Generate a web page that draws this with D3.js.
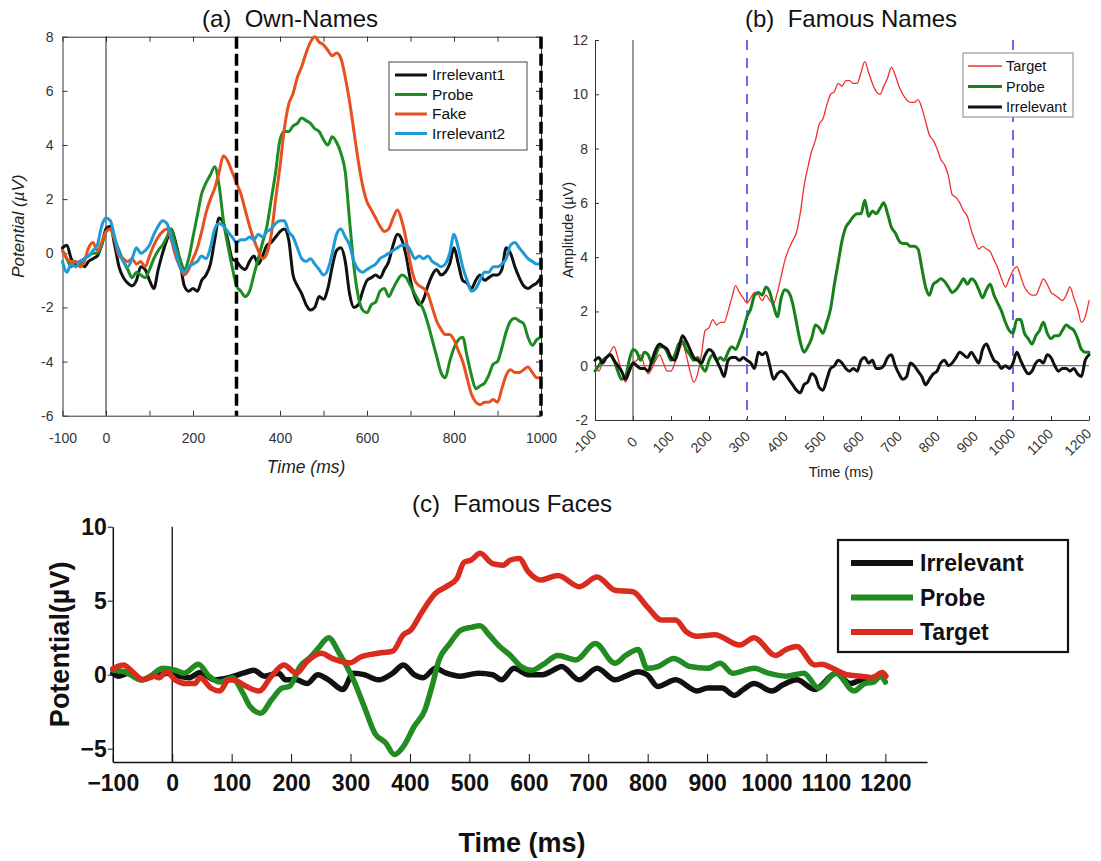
<!DOCTYPE html>
<html>
<head>
<meta charset="utf-8">
<script src="https://cdn.jsdelivr.net/npm/d3@7/dist/d3.min.js"></script>
<style>
  body { margin: 0; background: #fff; }
  svg { display: block; font-family: "Liberation Sans", Arial, sans-serif; }
  .title { white-space: pre; }
</style>
</head>
<body>
<svg id="fig" width="1101" height="861"></svg>
<script>
// ---------- panel (a) Own-Names : 10 ms samples from -100 to 1000 ----------
let aTime = d3.range(-100, 1001, 10)
let aIrrelevant1 = [0.2,0.3,-0.2,-0.4,-0.3,-0.5,-0.3,-0.2,-0.1,0.3,
  0.9,1.0,0.3,-0.5,-0.9,-1.1,-1.2,-1.0,-0.5,-0.6,
  -1.0,-1.3,-0.6,0,0.5,0.9,0.4,-0.3,-1.2,-1.4,
  -1.3,-1.4,-1.0,-0.8,-0.4,0.5,1.3,1.1,0.5,-0.2,
  -0.3,-0.5,-0.6,-0.3,-0.1,-0.4,-0.1,0.3,0.4,0.6,
  0.8,0.9,0.5,-0.8,-1.2,-1.5,-1.9,-2.1,-2.0,-1.6,
  -1.7,-1.3,-0.5,0.1,0.2,-0.3,-1.5,-2.0,-1.9,-1.4,
  -1.0,-0.9,-0.8,-0.9,-0.6,-0.3,0.3,0.7,0.5,-0.1,
  -1.0,-1.6,-1.9,-1.7,-1.2,-0.8,-0.6,-0.8,-0.7,-0.4,
  0.2,-0.4,-1.0,-1.1,-1.3,-1.0,-0.8,-1.0,-0.9,-0.8,
  -0.8,-0.6,0.2,0.0,-0.5,-0.9,-1.2,-1.3,-1.2,-1.1,
  -0.9]
let aProbe = [0.1,-0.2,-0.5,-0.3,-0.4,-0.2,-0.1,0,0,0.3,
  0.8,0.9,0.5,0.1,-0.3,-0.6,-0.9,-0.7,-0.8,-0.9,
  -0.6,-0.2,0.1,0.3,0.6,0.9,0.3,-0.2,-0.6,-0.2,
  0.6,1.4,2.2,2.6,2.9,3.2,2.5,1.2,0.3,-0.5,
  -1.2,-1.4,-1.6,-1.4,-0.8,-0.2,0.4,1.0,2.0,3.0,
  4.2,4.5,4.5,4.7,4.8,5.0,4.9,4.8,4.6,4.5,
  4.2,4.0,4.3,4.1,3.7,3.0,1.2,-0.5,-1.6,-2.1,
  -2.2,-1.9,-1.8,-1.4,-1.3,-1.6,-1.3,-1.0,-0.8,-0.9,
  -1.2,-1.5,-1.8,-2.1,-2.6,-3.2,-3.8,-4.4,-4.6,-4.0,
  -3.5,-3.2,-3.1,-3.8,-4.5,-5.0,-4.9,-4.8,-4.5,-4.1,
  -4.0,-3.5,-2.9,-2.5,-2.4,-2.5,-2.6,-3.1,-3.4,-3.2,
  -3.1]
let aFake = [0.1,-0.2,-0.3,-0.3,-0.5,-0.3,0.2,0.4,0.1,0.4,
  0.8,0.9,0.5,-0.1,-0.2,-0.3,-0.2,-0.4,-0.3,-0.5,
  -0.1,0.3,0.6,0.8,0.9,0.5,-0.1,-0.5,-0.8,-0.6,
  -0.2,0.2,0.8,1.5,2.0,2.4,3.0,3.6,3.4,3.0,
  2.6,2.2,1.6,1.0,0.5,0.1,-0.2,0.0,0.7,2.0,
  3.2,4.6,5.5,5.9,6.5,6.9,7.4,7.8,8.0,7.8,
  7.7,7.5,7.3,7.4,7.2,6.5,5.6,4.5,3.4,2.5,
  1.9,1.6,1.3,1.0,0.8,0.9,1.3,1.6,1.2,0.5,
  -0.4,-1.0,-1.2,-1.3,-1.5,-2.0,-2.5,-2.8,-3.0,-3.0,
  -3.2,-3.6,-4.0,-4.6,-5.2,-5.5,-5.6,-5.5,-5.5,-5.4,
  -5.5,-5.0,-4.5,-4.3,-4.4,-4.4,-4.3,-4.2,-4.4,-4.6,
  -4.6]
let aIrrelevant2 = [-0.3,-0.7,-0.4,-0.5,-0.3,-0.2,-0.1,0.1,0.3,1.0,
  1.3,1.2,0.6,0.0,-0.3,-0.5,-0.2,0.2,0.0,0.1,
  0.3,0.7,1.0,1.2,1.1,0.6,0.1,-0.5,-0.7,-0.5,
  -0.4,-0.3,-0.1,-0.2,0.2,0.9,1.1,1.0,0.8,0.6,
  0.4,0.5,0.5,0.6,0.5,0.7,0.6,0.8,0.9,1.1,
  1.2,1.2,0.8,0.6,0.2,-0.2,-0.3,-0.2,-0.4,-0.6,
  -0.8,-0.6,0.0,0.7,0.9,0.6,0.3,-0.3,-0.6,-0.7,
  -0.6,-0.5,-0.4,-0.2,-0.1,0.0,0.1,0.2,0.3,0.3,
  0.1,-0.2,-0.1,-0.2,-0.1,-0.3,-0.4,-0.5,-0.4,0.0,
  0.7,0.2,-0.5,-1.0,-1.4,-1.3,-1.0,-0.7,-0.7,-0.5,
  -0.5,-0.4,-0.2,0.3,0.4,0.2,0.0,-0.2,-0.3,-0.4,
  -0.4]
let aXTicks = d3.range(-100, 1001, 100)
let aXLabels = [-100, 0, 200, 400, 600, 800, 1000]
let aYTicks = [-6, -4, -2, 0, 2, 4, 6, 8]
let aMarkers = [300, 1000]

// ---------- panel (b) Famous Names : 10 ms samples from -100 to 1200 ----------
let bTime = d3.range(-100, 1201, 10)
let bTarget = [0.0,-0.2,0.1,0.3,0.5,0.7,0.3,-0.2,-0.6,-0.3,
  0.1,0.2,0.4,0.0,-0.3,-0.1,0.2,0.4,0.1,-0.2,
  -0.2,0.1,0.5,0.8,0.4,-0.2,-0.6,-0.3,0.4,1.3,
  1.4,1.7,1.5,1.6,1.6,2.0,2.5,2.95,2.7,2.5,
  2.3,2.5,2.7,2.6,2.4,2.6,2.4,2.3,2.7,3.3,
  3.9,4.3,4.6,4.9,5.6,6.6,7.3,7.9,8.3,8.9,
  9.1,9.6,10.0,10.1,10.4,10.3,10.5,10.5,10.4,10.4,
  10.8,11.2,10.8,10.4,10.1,10.0,10.3,10.6,11.0,10.7,
  10.3,10.0,9.8,9.7,9.7,9.8,9.5,9.0,8.5,8.3,
  8.0,7.6,7.4,7.0,6.3,6.2,6.0,5.7,5.5,5.0,
  4.6,4.3,4.4,4.3,4.2,3.9,3.6,3.2,2.9,3.2,
  3.5,3.65,3.3,2.9,2.7,2.6,2.6,2.9,3.2,3.0,
  2.7,2.6,2.5,2.4,2.6,2.9,2.5,2.1,1.6,1.8,
  2.4]
let bProbe = [-0.2,0.0,0.2,0.3,0.4,0.2,-0.2,-0.5,-0.4,0.2,
  0.6,0.5,0.2,0.5,0.4,0.1,0.4,0.7,0.7,0.5,
  0.2,0.4,0.8,0.9,0.6,0.4,0.2,0.3,0.0,-0.2,
  0.2,0.4,0.2,0.3,0.2,0.5,0.7,0.6,0.9,1.3,
  1.8,2.1,2.6,2.7,2.6,2.9,2.7,2.2,1.8,2.5,
  2.8,2.7,2.3,1.6,0.9,0.5,0.7,1.0,1.5,1.4,
  1.2,1.6,2.1,3.0,3.8,4.6,5.1,5.3,5.5,5.6,
  5.6,6.1,5.5,5.7,5.6,5.8,6.0,5.6,5.1,4.9,
  4.6,4.5,4.5,4.4,4.4,4.3,3.6,2.9,2.6,3.0,
  3.1,3.2,3.1,2.9,2.7,2.8,3.0,3.2,3.0,3.2,
  3.1,2.8,2.5,2.8,3.0,2.6,2.3,2.0,1.6,1.3,
  1.2,1.7,1.7,1.2,1.0,0.8,1.1,1.3,1.6,1.2,
  1.0,1.1,1.1,1.3,1.5,1.4,1.3,1.0,0.6,0.5,
  0.5]
let bIrrelevant = [0.2,0.3,0.1,0.3,0.4,0.2,0.0,-0.2,-0.5,-0.2,
  0.1,0.0,-0.1,-0.1,-0.2,0.2,0.6,0.8,0.7,0.6,
  0.3,0.2,0.6,1.1,0.9,0.6,0.3,0.2,0.1,0.4,
  0.6,0.5,0.2,-0.1,-0.4,0.2,0.3,0.3,0.2,0.3,
  0.2,0.1,-0.1,0.5,0.4,0.5,0.0,-0.5,-0.3,-0.2,
  -0.3,-0.5,-0.7,-0.9,-1.0,-0.7,-0.6,-0.3,-0.4,-0.8,
  -0.9,-0.5,-0.1,0.0,0.2,0.1,-0.1,-0.2,-0.1,-0.2,
  0.2,0.3,0.1,0.2,-0.1,-0.1,0.0,0.3,0.4,0.0,
  -0.3,-0.5,-0.4,0.1,0.0,-0.2,-0.4,-0.7,-0.5,-0.3,
  -0.2,0.1,0.2,0.0,0.1,0.3,0.5,0.4,0.3,0.5,
  0.3,0.1,0.6,0.8,0.5,0.2,0.1,-0.1,0.0,-0.1,
  0.1,0.5,0.2,-0.1,-0.3,-0.2,0.1,0.2,0.1,0.4,
  0.3,0.0,-0.2,-0.1,-0.1,-0.2,-0.1,-0.3,-0.4,0.2,
  0.4]
let bXTicks = d3.range(-100, 1201, 100)
let bYTicks = d3.range(-2, 13, 2)
let bMarkers = [300, 1000]

// ---------- panel (c) Famous Faces : [ms, µV] readings ----------
let cIrrelevant = [[-100,0.1],[-91,-0.1],[-73,0.1],[-52,-0.35],[-31,-0.1],[-7,0.1],[11,-0.1],[29,-0.2],
  [47,0.15],[71,-0.35],[95,-0.2],[119,0.1],[137,0.3],[155,-0.1],[179,0.1],[191,-0.35],[209,-0.35],
  [227,-0.6],[245,0.0],[263,-0.35],[287,-1.0],[305,0.1],[323,0.0],[347,-0.35],[371,0.1],[389,0.66],
  [407,0.0],[422,-0.2],[443,0.43],[461,0.1],[485,-0.1],[515,0.1],[539,0.0],[554,-0.35],[575,0.43],
  [599,0.0],[623,0.0],[641,0.3],[655,0.55],[685,-0.35],[715,0.43],[745,-0.35],[763,-0.1],[784,0.2],
  [799,0.0],[817,-0.8],[847,-0.35],[883,-1.1],[901,-0.9],[925,-0.9],[946,-1.4],[961,-1.0],[979,-0.6],
  [1009,-1.1],[1027,-0.7],[1051,-0.35],[1081,-1.0],[1117,0.1],[1141,-0.6],[1159,-0.35],[1177,-0.2],[1195,-0.1]]
let cProbe = [[-100,0.3],[-80,0.2],[-52,-0.35],[-37,-0.1],[-16,0.43],[5,0.3],[20,0.1],[44,0.7],[62,-0.1],
  [80,-0.5],[101,-0.2],[119,-1.25],[131,-2.15],[149,-2.6],[167,-1.7],[185,-0.9],[197,-0.8],[215,0.55],
  [233,1.2],[248,1.9],[263,2.5],[281,1.45],[305,-0.35],[323,-2.15],[341,-3.96],[359,-4.6],[374,-5.4],
  [389,-4.85],[407,-3.5],[425,-2.4],[437,-0.8],[449,1.0],[467,2.1],[485,3.0],[503,3.2],[518,3.3],
  [533,2.7],[551,1.9],[569,1.3],[587,0.55],[605,0.3],[623,0.66],[649,1.3],[679,1.0],[712,2.1],
  [745,0.77],[763,1.3],[784,1.7],[799,0.43],[817,0.55],[844,1.1],[871,0.55],[901,0.43],[922,0.77],
  [943,0.1],[979,0.43],[1003,0.1],[1033,-0.1],[1063,0.1],[1087,-0.9],[1117,0.1],[1147,-1.1],
  [1165,-0.6],[1180,-0.5],[1192,-0.1],[1200,-0.5]]
let cTarget = [[-100,0.4],[-82,0.66],[-67,0.2],[-49,-0.35],[-31,-0.1],[-22,-0.2],[-10,0.2],[5,-0.35],
  [23,-0.6],[38,-0.6],[47,-0.2],[65,-0.9],[80,-1.1],[95,-0.35],[110,-0.45],[125,-0.8],[146,-1.1],
  [167,-0.1],[188,0.66],[209,0.1],[227,0.9],[251,1.45],[269,1.1],[299,0.8],[317,1.2],[347,1.45],
  [371,1.6],[389,2.7],[401,3.0],[419,4.15],[443,5.5],[461,5.95],[479,6.5],[491,7.6],[503,7.75],
  [518,8.2],[539,7.5],[557,7.4],[569,7.75],[584,7.85],[599,6.96],[620,6.4],[638,6.6],[649,6.7],
  [685,5.95],[715,6.6],[745,5.7],[775,5.6],[799,4.6],[823,3.7],[847,3.7],[865,2.9],[883,2.6],
  [913,2.7],[955,2.0],[979,2.5],[1015,1.3],[1033,1.7],[1051,1.9],[1081,0.66],[1093,0.7],[1111,0.43],
  [1135,0.0],[1159,-0.1],[1177,-0.2],[1195,0.14],[1201,-0.1]]
let cXTicks = d3.range(-100, 1201, 100)
let cYTicks = [-5, 0, 5, 10]

let svg = d3.select("#fig")

function pairs(times, vals) {
    return times.map((t, i) => [t, vals[i]])
}

function drawLine(g, x, y, data, color, width) {
    g.append("path")
        .datum(data)
        .attr("fill", "none")
        .attr("stroke", color)
        .attr("stroke-width", width)
        .attr("stroke-linejoin", "round")
        .attr("stroke-linecap", "round")
        .attr("d", d3.line().x(d => x(d[0])).y(d => y(d[1])).curve(d3.curveMonotoneX))
}

function styleAxis(g, size, color, weight) {
    g.attr("font-family", null).attr("font-size", null)
    g.select(".domain").attr("stroke", color)
    g.selectAll(".tick line").attr("stroke", color)
    g.selectAll(".tick text").attr("fill", color).style("font-size", size + "px").style("font-weight", weight || "normal")
}

function legend(g, x0, y0, w, h, items, opt) {
    g.append("rect").attr("x", x0).attr("y", y0).attr("width", w).attr("height", h)
        .attr("fill", "#fff").attr("stroke", opt.border).attr("stroke-width", opt.borderWidth)
    items.forEach((it, i) => {
        let yy = y0 + opt.first + i * opt.step
        g.append("line").attr("x1", x0 + opt.lx0).attr("x2", x0 + opt.lx1).attr("y1", yy).attr("y2", yy)
            .attr("stroke", it.color).attr("stroke-width", it.width)
        g.append("text").attr("x", x0 + opt.tx).attr("y", yy).attr("dy", "0.35em")
            .style("font-size", opt.size + "px").style("font-weight", opt.weight || "normal")
            .attr("fill", "#111").text(it.name)
    })
}

// ================= (a) =================
let xA = d3.scaleLinear().domain([-100, 1000]).range([62.5, 541])
let yA = d3.scaleLinear().domain([-6, 8]).range([415.7, 36.7])
let pa = svg.append("g")

let aBottom = pa.append("g").attr("transform", `translate(0,${yA(-6)})`)
    .call(d3.axisBottom(xA).tickValues(aXTicks).tickSize(-5).tickSizeOuter(0).tickPadding(17)
        .tickFormat(d => aXLabels.includes(d) ? String(d) : ""))
styleAxis(aBottom, 14, "#333")
let aTop = pa.append("g").attr("transform", `translate(0,${yA(8)})`)
    .call(d3.axisTop(xA).tickValues(aXTicks).tickSize(-5).tickSizeOuter(0).tickFormat(""))
styleAxis(aTop, 14, "#333")
let aLeft = pa.append("g").attr("transform", `translate(${xA(-100)},0)`)
    .call(d3.axisLeft(yA).tickValues(aYTicks).tickSize(-5).tickSizeOuter(0).tickPadding(9).tickFormat(d => String(d)))
styleAxis(aLeft, 14, "#333")
let aRight = pa.append("g").attr("transform", `translate(${xA(1000)},0)`)
    .call(d3.axisRight(yA).tickValues(aYTicks).tickSize(-5).tickSizeOuter(0).tickFormat(""))
styleAxis(aRight, 14, "#333")

pa.append("line").attr("x1", xA(0)).attr("x2", xA(0)).attr("y1", yA(8)).attr("y2", yA(-6))
    .attr("stroke", "#222").attr("stroke-width", 1)

drawLine(pa, xA, yA, pairs(aTime, aIrrelevant1), "#111111", 3)
drawLine(pa, xA, yA, pairs(aTime, aProbe), "#1d8c22", 3)
drawLine(pa, xA, yA, pairs(aTime, aFake), "#e8501f", 3)
drawLine(pa, xA, yA, pairs(aTime, aIrrelevant2), "#1f9ad8", 3)

aMarkers.forEach(m => {
    pa.append("line").attr("x1", xA(m)).attr("x2", xA(m)).attr("y1", yA(8)).attr("y2", yA(-6))
        .attr("stroke", "#000").attr("stroke-width", 3.5).attr("stroke-dasharray", "12,5")
})

legend(pa, 389, 62, 138, 88, [
    {name: "Irrelevant1", color: "#111111", width: 3},
    {name: "Probe", color: "#1d8c22", width: 3},
    {name: "Fake", color: "#e8501f", width: 3},
    {name: "Irrelevant2", color: "#1f9ad8", width: 3}
], {border: "#444", borderWidth: 1, first: 13, step: 19.5, lx0: 6, lx1: 38, tx: 43, size: 15.5})

pa.append("text").attr("class", "title").attr("x", 290).attr("y", 27).attr("text-anchor", "middle")
    .style("font-size", "24px").attr("fill", "#111").text("(a)  Own-Names")
pa.append("text").attr("transform", `translate(24,${(yA(8) + yA(-6)) / 2}) rotate(-90)`)
    .attr("text-anchor", "middle").style("font-size", "17px").style("font-style", "italic")
    .attr("fill", "#222").text("Potential (\u00b5V)")
pa.append("text").attr("x", 306).attr("y", 473).attr("text-anchor", "middle")
    .style("font-size", "17.5px").style("font-style", "italic").attr("fill", "#222").text("Time (ms)")

// ================= (b) =================
let xB = d3.scaleLinear().domain([-100, 1200]).range([595, 1089])
let yB = d3.scaleLinear().domain([-2, 12]).range([420, 40])
let pb = svg.append("g")

let bBottom = pb.append("g").attr("transform", `translate(0,${yB(-2)})`)
    .call(d3.axisBottom(xB).tickValues(bXTicks).tickSize(-4).tickSizeOuter(0).tickFormat(d => String(d)))
styleAxis(bBottom, 14, "#333")
bBottom.selectAll(".tick text")
    .attr("y", 0).attr("dy", "0.35em").attr("text-anchor", "middle")
    .attr("transform", d => `translate(${2 - 3.4 * String(d).length},22) rotate(-45)`)
let bLeft = pb.append("g").attr("transform", `translate(${xB(-100)},0)`)
    .call(d3.axisLeft(yB).tickValues(bYTicks).tickSize(-4).tickSizeOuter(0).tickPadding(7).tickFormat(d => String(d)))
styleAxis(bLeft, 14, "#333")

pb.append("line").attr("x1", xB(-100)).attr("x2", xB(1200)).attr("y1", yB(0)).attr("y2", yB(0))
    .attr("stroke", "#555").attr("stroke-width", 1)
pb.append("line").attr("x1", xB(0)).attr("x2", xB(0)).attr("y1", yB(12)).attr("y2", yB(-2))
    .attr("stroke", "#555").attr("stroke-width", 1.2)

bMarkers.forEach(m => {
    pb.append("line").attr("x1", xB(m)).attr("x2", xB(m)).attr("y1", yB(12)).attr("y2", yB(-2))
        .attr("stroke", "#5b5bef").attr("stroke-width", 1.8).attr("stroke-dasharray", "10,8")
})

drawLine(pb, xB, yB, pairs(bTime, bTarget), "#ee3030", 1.3)
drawLine(pb, xB, yB, pairs(bTime, bProbe), "#17801b", 3)
drawLine(pb, xB, yB, pairs(bTime, bIrrelevant), "#111111", 3)

legend(pb, 963, 53, 110, 64, [
    {name: "Target", color: "#ee3030", width: 1.3},
    {name: "Probe", color: "#17801b", width: 3},
    {name: "Irrelevant", color: "#111111", width: 3}
], {border: "#999", borderWidth: 1.2, first: 13, step: 20.5, lx0: 5, lx1: 39, tx: 43, size: 14.5})

pb.append("text").attr("class", "title").attr("x", 851).attr("y", 27).attr("text-anchor", "middle")
    .style("font-size", "24px").attr("fill", "#111").text("(b)  Famous Names")
pb.append("text").attr("transform", `translate(573,${(yB(12) + yB(-2)) / 2}) rotate(-90)`)
    .attr("text-anchor", "middle").style("font-size", "14.5px").attr("fill", "#222").text("Amplitude (\u00b5V)")
pb.append("text").attr("x", 841).attr("y", 477).attr("text-anchor", "middle")
    .style("font-size", "14.5px").attr("fill", "#222").text("Time (ms)")

// ================= (c) =================
let xC = d3.scaleLinear().domain([-100, 1270]).range([112.8, 927])
let yC = d3.scaleLinear().domain([-5.9, 10]).range([762, 526.7])
let pc = svg.append("g")

let cBottom = pc.append("g").attr("transform", `translate(0,${yC(-5.9)})`)
    .call(d3.axisBottom(xC).tickValues(cXTicks).tickSize(-8).tickSizeOuter(0).tickPadding(13)
        .tickFormat(d => d < 0 ? "\u2212" + Math.abs(d) : String(d)))
styleAxis(cBottom, 23, "#111", "bold")
cBottom.select(".domain").attr("stroke-width", 1.5)
let cLeft = pc.append("g").attr("transform", `translate(${xC(-100)},0)`)
    .call(d3.axisLeft(yC).tickValues(cYTicks).tickSize(5).tickSizeOuter(0).tickPadding(1)
        .tickFormat(d => d < 0 ? "\u2212" + Math.abs(d) : String(d)))
styleAxis(cLeft, 23, "#111", "bold")
cLeft.select(".domain").attr("stroke-width", 1.5)

pc.append("line").attr("x1", xC(0)).attr("x2", xC(0)).attr("y1", yC(10)).attr("y2", yC(-5.9))
    .attr("stroke", "#111").attr("stroke-width", 1.3)

drawLine(pc, xC, yC, cIrrelevant, "#111111", 5.5)
drawLine(pc, xC, yC, cProbe, "#228b22", 5.5)
drawLine(pc, xC, yC, cTarget, "#d92b1e", 5.5)

legend(pc, 838, 540, 230, 112, [
    {name: "Irrelevant", color: "#111111", width: 6},
    {name: "Probe", color: "#228b22", width: 6},
    {name: "Target", color: "#d92b1e", width: 6}
], {border: "#111", borderWidth: 2.2, first: 23, step: 34.5, lx0: 13, lx1: 75, tx: 82, size: 23, weight: "bold"})

pc.append("text").attr("class", "title").attr("x", 512).attr("y", 512).attr("text-anchor", "middle")
    .style("font-size", "24px").attr("fill", "#111").text("(c)  Famous Faces")
pc.append("text").attr("transform", `translate(69,${(yC(10) + yC(-5.9)) / 2}) rotate(-90)`)
    .attr("text-anchor", "middle").style("font-size", "27px").style("font-weight", "bold")
    .attr("fill", "#111").text("Potential(\u00b5V)")
pc.append("text").attr("x", 522).attr("y", 852).attr("text-anchor", "middle")
    .style("font-size", "27px").style("font-weight", "bold").attr("fill", "#111").text("Time (ms)")
</script>
</body>
</html>
